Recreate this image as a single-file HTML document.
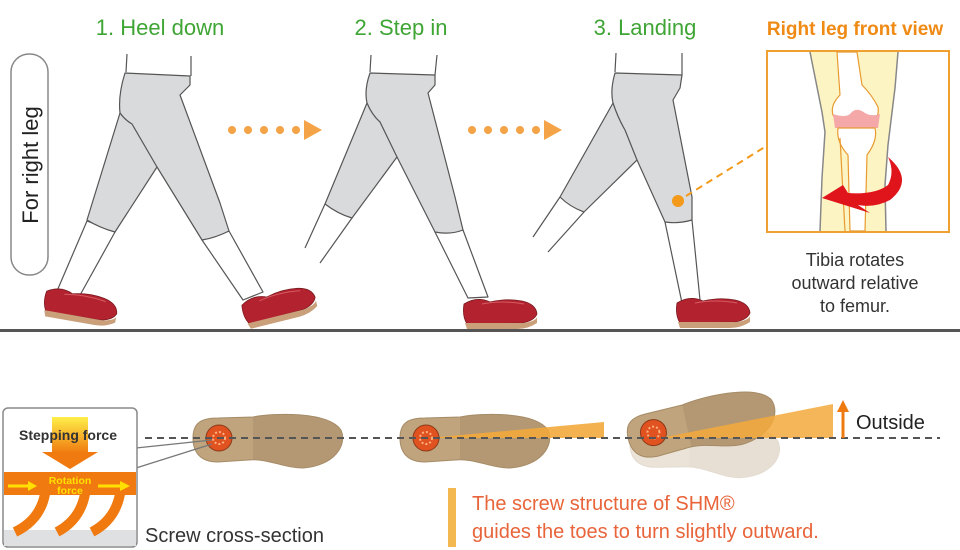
<!DOCTYPE html>
<html><head><style>
html,body{margin:0;padding:0;background:#fff;}
svg{display:block;font-family:"Liberation Sans",Arial,sans-serif;}
</style></head><body>
<svg width="960" height="550" viewBox="0 0 960 550" xmlns="http://www.w3.org/2000/svg">
<defs>
<linearGradient id="yg" x1="0" y1="0" x2="0" y2="1"><stop offset="0" stop-color="#fff04a"/><stop offset="1" stop-color="#f07a10"/></linearGradient>
<g id="shoe">
  <path d="M2,8 Q15,0 28,6 Q45,2 60,5 Q74,8 75,18 Q72,25 60,27 L5,28 Q0,20 2,8 Z" fill="#b3232f" stroke="#7a1a20" stroke-width="0.8"/>
  <path d="M20,8 Q40,4 62,8" stroke="#d65a62" fill="none" stroke-width="1"/>
  <path d="M3,27 L62,27 Q74,25 75,21 L75,27 Q66,33 55,33 L5,33 Z" fill="#c9a07a"/>
</g>
<g id="sole">
  <path d="M0,0 C0,-15 8,-20 25,-20 L60,-21 C80,-25 135,-27 148,-8 C155,8 140,28 110,30 C90,30 75,20 55,22 L25,24 C8,24 0,15 0,0 Z" fill="#bfa47e" stroke="#a58b66" stroke-width="1"/>
  <path d="M60,-21 C80,-25 135,-27 148,-8 C155,8 140,28 110,30 C90,30 75,20 60,22 Z" fill="#a98e69" opacity="0.55"/>
  <circle cx="26" cy="0" r="13" fill="#e0521f" stroke="#8a3a1a" stroke-width="1"/>
  <circle cx="26" cy="0" r="6" fill="none" stroke="#ffb080" stroke-width="2" stroke-dasharray="2 2"/>
</g>
</defs>

<text x="160" y="35" font-size="22" fill="#3fa535" text-anchor="middle">1. Heel down</text>
<text x="401" y="35" font-size="22" fill="#3fa535" text-anchor="middle">2. Step in</text>
<text x="645" y="35" font-size="22" fill="#3fa535" text-anchor="middle">3. Landing</text>
<text x="855" y="35" font-size="19" font-weight="bold" fill="#ef8a14" text-anchor="middle">Right leg front view</text>

<rect x="11" y="54" width="37" height="221" rx="18" fill="#fff" stroke="#888" stroke-width="1.5"/>
<text transform="translate(38,165) rotate(-90)" font-size="22" fill="#222" text-anchor="middle">For right leg</text>

<g fill="#f5a347">
<circle cx="232" cy="130" r="4"/><circle cx="248" cy="130" r="4"/><circle cx="264" cy="130" r="4"/><circle cx="280" cy="130" r="4"/><circle cx="296" cy="130" r="4"/>
<path d="M304,120 L322,130 L304,140 Z"/>
<circle cx="472" cy="130" r="4"/><circle cx="488" cy="130" r="4"/><circle cx="504" cy="130" r="4"/><circle cx="520" cy="130" r="4"/><circle cx="536" cy="130" r="4"/>
<path d="M544,120 L562,130 L544,140 Z"/>
</g>

<g stroke="#555" stroke-width="1.2" stroke-linejoin="round">
<path d="M126,72 L127,54 M191,76 L191,56" fill="none"/>
<path d="M87,221 L57,291 L79,297 L115,232 Z" fill="#fff"/>
<path d="M202,240 L243,300 L263,292 L229,231 Z" fill="#fff"/>
<path d="M125,73 L190,76 L190,85 L180,95 L220,203 L229,231 Q215,238 202,240 L157,167 L115,232 Q100,228 87,220 L120,113 Q118,95 125,73 Z" fill="#d9dadc"/>
<path d="M120,113 Q125,120 132,124 L157,167" fill="none"/>
<path d="M370,72 L371,55 M435,75 L437,55" fill="none"/>
<path d="M325,204 L305,248 M352,218 L320,263" fill="none"/>
<path d="M435,232 L468,298 L488,297 L463,230 Z" fill="#fff"/>
<path d="M370,73 L435,75 L435,85 L428,93 L455,197 L463,230 Q450,235 435,232 L397,157 L352,218 Q338,214 325,204 L367,103 Q364,90 370,73 Z" fill="#d9dadc"/>
<path d="M367,103 Q372,115 380,122 L397,157" fill="none"/>
<path d="M615,72 L616,53 M682,75 L682,53" fill="none"/>
<path d="M560,197 L533,237 M584,212 L548,252" fill="none"/>
<path d="M665,222 L682,303 L700,300 L692,220 Z" fill="#fff"/>
<path d="M615,73 L682,75 L680,88 L673,100 L692,197 L692,220 Q678,224 665,222 L637,160 L584,212 Q570,207 560,197 L613,103 Q610,90 615,73 Z" fill="#d9dadc"/>
<path d="M613,103 Q618,118 625,130 L637,160" fill="none"/>
</g>
<g transform="translate(46,283) rotate(10)"><use href="#shoe"/></g>
<g transform="translate(238,298) rotate(-14)"><use href="#shoe"/></g>
<g transform="translate(462,296)"><use href="#shoe"/></g>
<g transform="translate(675,295)"><use href="#shoe"/></g>

<circle cx="678" cy="201" r="6" fill="#f39a1a"/>
<path d="M686,196 L768,145" stroke="#f39a1a" stroke-width="2" stroke-dasharray="7 5"/>

<rect x="0" y="329" width="960" height="3" fill="#555"/>

<rect x="767" y="51" width="182" height="181" fill="#fff" stroke="#f0a030" stroke-width="2"/>
<path d="M810,52 L822,112 L825,132 L822,178 L820,231 L886,231 L885,185 L888,145 L895,88 L898,52 Z" fill="#fdf4c4"/>
<path d="M810,52 L822,112 L825,132 L822,178 L820,231 M898,52 L895,88 L888,145 L885,185 L886,231" stroke="#888" fill="none" stroke-width="1.5"/>
<path d="M837,52 L840,95 Q830,105 833,115 Q838,123 848,122 L870,122 Q880,118 878,107 Q872,95 862,85 L857,52 Z" fill="#fff" stroke="#e89a30" stroke-width="1.2"/>
<path d="M833,114 Q845,118 850,114 Q856,106 865,113 Q872,117 880,114 L878,128 L835,128 Z" fill="#f4a8a8"/>
<path d="M838,128 L875,128 Q878,140 867,155 L865,231 L850,231 L848,155 Q836,142 838,128 Z" fill="#fff" stroke="#e89a30" stroke-width="1.2"/>
<path d="M840,138 L845,231" stroke="#e89a30" stroke-width="1.2" fill="none"/>
<path d="M888,157 Q915,180 890,200 Q875,208 858,205 L870,213 L822,198 L843,185 L848,193 Q875,195 888,185 Q895,172 888,157 Z" fill="#e0151c"/>
<text font-size="18" fill="#333" text-anchor="middle"><tspan x="855" y="266">Tibia rotates</tspan><tspan x="855" y="289">outward relative</tspan><tspan x="855" y="312">to femur.</tspan></text>

<g transform="translate(193,438)"><use href="#sole"/></g>
<g transform="translate(400,438)"><use href="#sole"/></g>
<g transform="translate(630,442) rotate(3)" opacity="0.3"><use href="#sole"/></g>
<g transform="translate(628,438) rotate(-12)"><use href="#sole"/></g>
<path d="M428,438 L604,422 L604,438 Z" fill="#f3a93c" opacity="0.9"/>
<path d="M660,438 L833,404 L833,438 Z" fill="#f3a93c" opacity="0.85"/>
<line x1="145" y1="438" x2="940" y2="438" stroke="#555" stroke-width="2" stroke-dasharray="7 5"/>
<path d="M843,438 L843,410" stroke="#ef7a10" stroke-width="3"/>
<path d="M837,412 L843,400 L849,412 Z" fill="#ef7a10"/>
<text x="856" y="429" font-size="20" fill="#222">Outside</text>

<path d="M136,448 L212,440 M136,468 L212,444" stroke="#777" stroke-width="1.2"/>
<rect x="3" y="408" width="134" height="139" rx="5" fill="#fff" stroke="#888" stroke-width="1.5"/>
<rect x="4" y="530" width="132" height="16" fill="#dfe0e2"/>
<rect x="52" y="417" width="36" height="36" fill="url(#yg)"/>
<path d="M42,452 L98,452 L70,469 Z" fill="#f07a10"/>
<text x="68" y="440" font-size="14" font-weight="bold" fill="#333" text-anchor="middle">Stepping force</text>
<rect x="4" y="472" width="132" height="23" fill="#f07a10"/>
<g stroke="#f07a10" stroke-width="10" fill="none">
<path d="M45,494 Q40,520 15,532"/><path d="M85,494 Q80,520 57,532"/><path d="M120,494 Q115,520 92,532"/>
</g>
<path d="M8,486 L30,486" stroke="#ffe000" stroke-width="3"/><path d="M28,481 L37,486 L28,491 Z" fill="#ffe000"/>
<path d="M98,486 L122,486" stroke="#ffe000" stroke-width="3"/><path d="M120,481 L130,486 L120,491 Z" fill="#ffe000"/>
<text x="70" y="484" font-size="10.5" font-weight="bold" fill="#ffe000" text-anchor="middle">Rotation</text>
<text x="70" y="494" font-size="10.5" font-weight="bold" fill="#ffe000" text-anchor="middle">force</text>
<text x="145" y="542" font-size="20" fill="#333">Screw cross-section</text>

<rect x="448" y="488" width="8" height="59" fill="#f4b850"/>
<text x="472" y="510" font-size="20" fill="#e8643a">The screw structure of SHM®</text>
<text x="472" y="538" font-size="20" fill="#e8643a">guides the toes to turn slightly outward.</text>
</svg>
</body></html>
